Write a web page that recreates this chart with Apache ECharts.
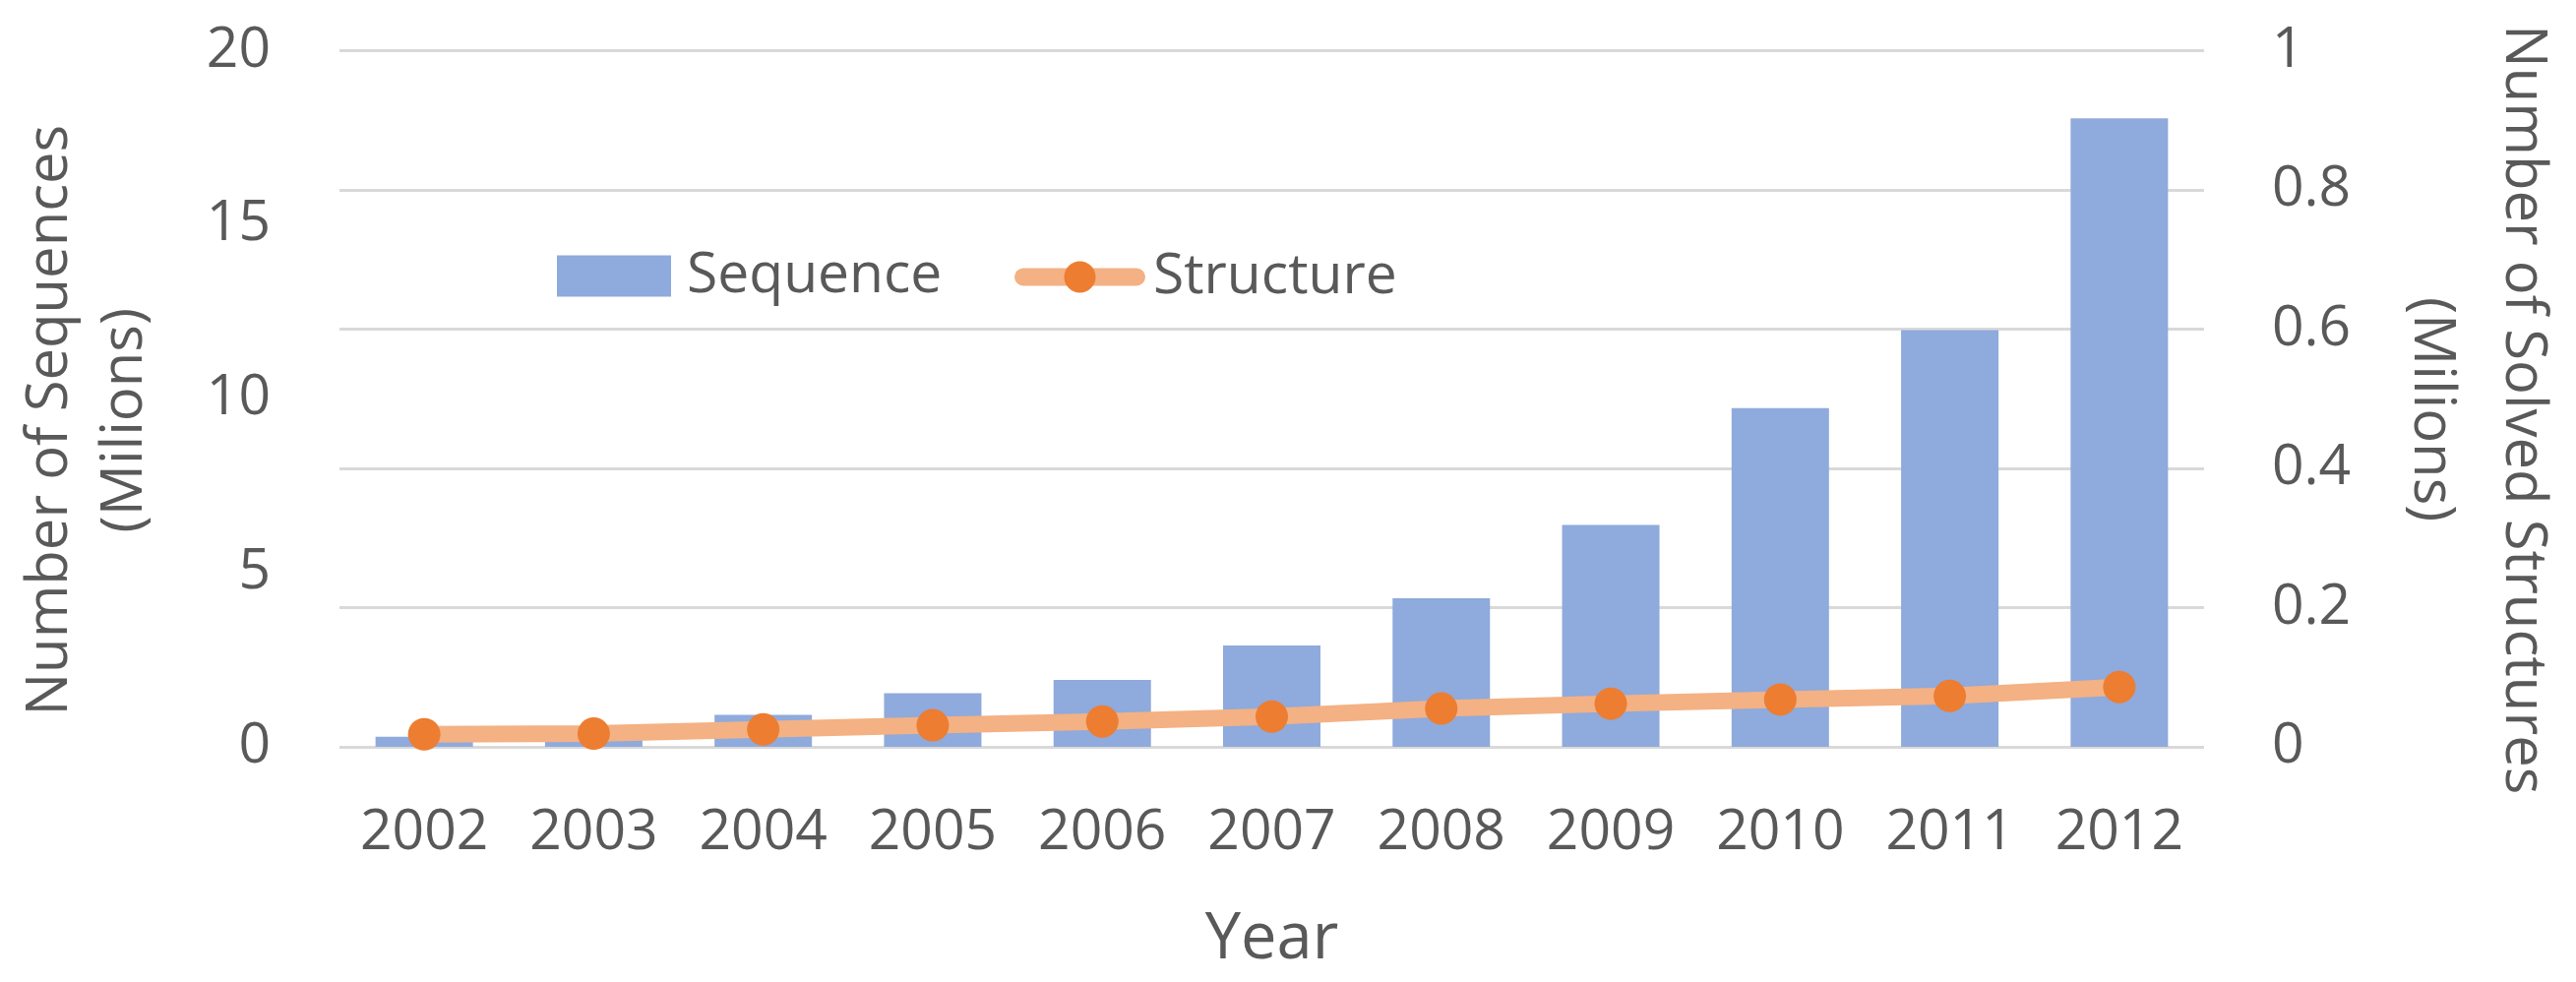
<!DOCTYPE html>
<html>
<head>
<meta charset="utf-8">
<script src="https://cdn.jsdelivr.net/npm/echarts@6/dist/echarts.min.js"></script>
<style>
html,body{margin:0;padding:0;background:#fff;}
#chart{width:2618px;height:998px;}
</style>
</head>
<body>
<div id="chart"></div>
<script>
const years = ['2002','2003','2004','2005','2006','2007','2008','2009','2010','2011','2012'];
const sequences = [0.29, 0.25, 0.92, 1.54, 1.92, 2.91, 4.27, 6.37, 9.73, 11.97, 18.05];
const structures = [0.018, 0.019, 0.025, 0.031, 0.0365, 0.0435, 0.055, 0.062, 0.068, 0.073, 0.086];
const leftTicks = {min: 0, max: 20, interval: 5};
const rightTicks = {min: 0, max: 1, interval: 0.2};

const FONT = 'Open Sans';
const TXT = '#595959';

const chart = echarts.init(document.getElementById('chart'), null, {renderer: 'canvas'});
chart.setOption({
  animation: false,
  backgroundColor: '#ffffff',
  textStyle: {fontFamily: FONT, color: TXT},
  grid: {left: 345, right: 374, top: 42, bottom: 239, containLabel: false},
  legend: [
    {
      data: ['Sequence'], left: 561, top: 247, padding: 5,
      itemWidth: 116, itemHeight: 42, icon: 'rect',
      textStyle: {fontFamily: FONT, fontSize: 57, color: TXT, lineHeight: 42, padding: [0, 0, 0, 11]}
    },
    {
      data: ['Structure'], left: 1026, top: 248, padding: 5,
      itemWidth: 115, itemHeight: 40,
      lineStyle: {width: 18, cap: 'round', color: '#F4B183'},
      itemStyle: {color: '#ED7D31', borderWidth: 0},
      textStyle: {fontFamily: FONT, fontSize: 57, color: TXT, lineHeight: 40, padding: [0, 0, 0, 12]}
    }
  ],
  xAxis: {
    type: 'category',
    data: years,
    boundaryGap: true,
    axisLine: {show: false},
    axisTick: {show: false},
    axisLabel: {fontFamily: FONT, fontSize: 57, color: TXT, margin: 59},
    name: 'Year',
    nameLocation: 'middle',
    nameGap: 164,
    nameTextStyle: {fontFamily: FONT, fontSize: 65, color: TXT}
  },
  yAxis: [
    {
      type: 'value',
      min: leftTicks.min, max: leftTicks.max, interval: leftTicks.interval,
      position: 'left',
      axisLine: {show: false}, axisTick: {show: false},
      splitLine: {show: false},
      axisLabel: {fontFamily: FONT, fontSize: 57, color: TXT, margin: 70},
      name: 'Number of Sequences\n(Milions)',
      nameLocation: 'middle',
      nameGap: 180,
      nameTextStyle: {fontFamily: FONT, fontSize: 58, color: TXT, lineHeight: 76, padding: [0, 44, 0, 0]}
    },
    {
      type: 'value',
      min: rightTicks.min, max: rightTicks.max, interval: rightTicks.interval,
      position: 'right',
      axisLine: {show: false}, axisTick: {show: false},
      splitLine: {show: true, lineStyle: {color: '#D9D9D9', width: 3}},
      axisLabel: {fontFamily: FONT, fontSize: 57, color: TXT, margin: 69},
      name: 'Number of Solved Structures\n(Milions)',
      nameLocation: 'middle',
      nameRotate: -90,
      nameGap: 184,
      nameTextStyle: {fontFamily: FONT, fontSize: 58, color: TXT, lineHeight: 93, padding: [0, 0, 0, 22]}
    }
  ],
  series: [
    {
      name: 'Sequence',
      type: 'bar',
      yAxisIndex: 0,
      data: sequences,
      barWidth: 99,
      itemStyle: {color: '#8FAADC'}
    },
    {
      name: 'Structure',
      type: 'line',
      yAxisIndex: 1,
      data: structures,
      symbol: 'circle',
      symbolSize: 33,
      lineStyle: {color: '#F4B183', width: 17},
      itemStyle: {color: '#ED7D31', borderWidth: 0}
    }
  ]
});
</script>
</body>
</html>
